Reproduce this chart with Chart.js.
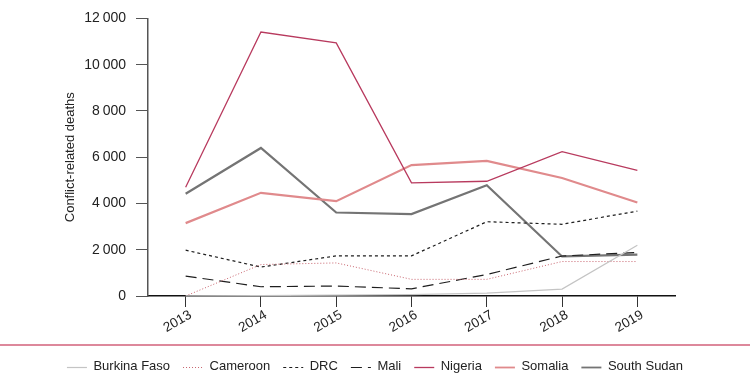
<!DOCTYPE html>
<html>
<head>
<meta charset="utf-8">
<script src="https://cdn.jsdelivr.net/npm/chart.js@4/dist/chart.umd.min.js"></script>
<style>
  html, body { margin: 0; padding: 0; background: #fff; }
  #wrap { width: 750px; height: 383px; }
</style>
</head>
<body>
<div id="wrap"><canvas id="c" width="750" height="383"></canvas></div>
<script>
const years = ['2013', '2014', '2015', '2016', '2017', '2018', '2019'];
const burkinaFaso = [10, 20, 40, 60, 120, 300, 2190];
const cameroon = [0, 1360, 1430, 720, 720, 1490, 1490];
const drc = [1980, 1250, 1735, 1735, 3210, 3100, 3670];
const mali = [860, 400, 430, 310, 930, 1730, 1880];
const nigeria = [4700, 11410, 10940, 4890, 4960, 6240, 5430];
const somalia = [3150, 4460, 4100, 5660, 5840, 5100, 4040];
const southSudan = [4420, 6400, 3610, 3540, 4790, 1710, 1790];
const yTicks = [0, 2000, 4000, 6000, 8000, 10000, 12000];
const yTitle = 'Conflict-related deaths';

const FONT = '"Liberation Sans", Arial, sans-serif';
const LEGEND_BOX = 20;

function fmt(v) {
  if (v < 1000) return String(v);
  const th = Math.floor(v / 1000);
  const rest = String(v % 1000).padStart(3, '0');
  return th + '\u2009' + rest;
}

const separator = {
  id: 'separator',
  afterDraw(chart) {
    const ctx = chart.ctx;
    const lg = chart.legend;
    ctx.save();
    const y = lg.top - 2;
    ctx.strokeStyle = '#d2607a';
    ctx.lineWidth = 1.5;
    ctx.beginPath();
    ctx.moveTo(0, y);
    ctx.lineTo(chart.width, y);
    ctx.stroke();
    (lg.legendHitBoxes || []).forEach((hb, i) => {
      const item = lg.legendItems[i];
      const d = chart.data.datasets[item.datasetIndex];
      const cy = Math.round(hb.top + hb.height / 2) + 0.5;
      ctx.strokeStyle = d.borderColor;
      ctx.lineWidth = Math.min(d.borderWidth, 1.8);
      ctx.setLineDash(d.borderDash || []);
      ctx.beginPath();
      ctx.moveTo(hb.left, cy);
      ctx.lineTo(hb.left + LEGEND_BOX, cy);
      ctx.stroke();
    });
    ctx.restore();
  }
};

function ds(label, data, color, width, dash) {
  return {
    label, data,
    borderColor: color,
    backgroundColor: color,
    borderWidth: width,
    borderDash: dash,
    pointRadius: 0,
    pointHoverRadius: 0,
    tension: 0,
    fill: false
  };
}

new Chart(document.getElementById('c'), {
  type: 'line',
  data: {
    labels: years,
    datasets: [
      ds('Burkina Faso', burkinaFaso, '#c4c4c4', 1.2, []),
      ds('Cameroon', cameroon, '#c8646e', 1, [1, 2]),
      ds('DRC', drc, '#1e1e1e', 1.2, [3, 3]),
      ds('Mali', mali, '#1e1e1e', 1.2, [11, 6]),
      ds('Nigeria', nigeria, '#b83a5e', 1.3, []),
      ds('Somalia', somalia, '#e08a8c', 2.2, []),
      ds('South Sudan', southSudan, '#747474', 2.2, [])
    ]
  },
  options: {
    responsive: false,
    animation: false,
    devicePixelRatio: 1,
    layout: { padding: { left: 0, right: 0, top: 13, bottom: 0 } },
    plugins: {
      tooltip: { enabled: false },
      legend: {
        position: 'bottom',
        labels: {
          boxWidth: LEGEND_BOX,
          boxHeight: 2,
          color: '#222',
          font: { family: FONT, size: 13 },
          padding: 13,
          generateLabels(chart) {
            const items = Chart.defaults.plugins.legend.labels.generateLabels(chart);
            items.forEach(it => {
              it.fillStyle = 'rgba(0,0,0,0)';
              it.strokeStyle = 'rgba(0,0,0,0)';
              it.lineWidth = 0;
            });
            return items;
          }
        }
      }
    },
    scales: {
      x: {
        offset: true,
        grid: { display: true, drawOnChartArea: false, drawTicks: true, tickLength: 11, color: '#333', offset: false },
        border: { display: true, color: '#111', width: 1.5 },
        ticks: { color: '#222', font: { family: FONT, size: 13.5 }, minRotation: 30, maxRotation: 30, padding: 0, labelOffset: 5 },
        afterFit(s) { s.height = 51; }
      },
      y: {
        min: 0, max: 12000,
        afterBuildTicks(s) { s.ticks = yTicks.map(v => ({ value: v })); },
        grid: { display: true, drawOnChartArea: false, drawTicks: true, tickLength: 12, color: '#555' },
        border: { display: true, color: '#555', width: 1.5 },
        ticks: { color: '#222', font: { family: FONT, size: 14 }, padding: 10, callback: v => fmt(v) },
        title: { display: true, text: yTitle, color: '#222', font: { family: FONT, size: 13 }, padding: { top: 63, bottom: 0 } },
        afterFit(s) { s.width = 148; }
      },
      yr: {
        position: 'right',
        display: true,
        grid: { display: false, drawTicks: false },
        border: { display: false },
        ticks: { display: false },
        afterFit(s) { s.width = 75; }
      }
    }
  },
  plugins: [separator]
});
</script>
</body>
</html>
